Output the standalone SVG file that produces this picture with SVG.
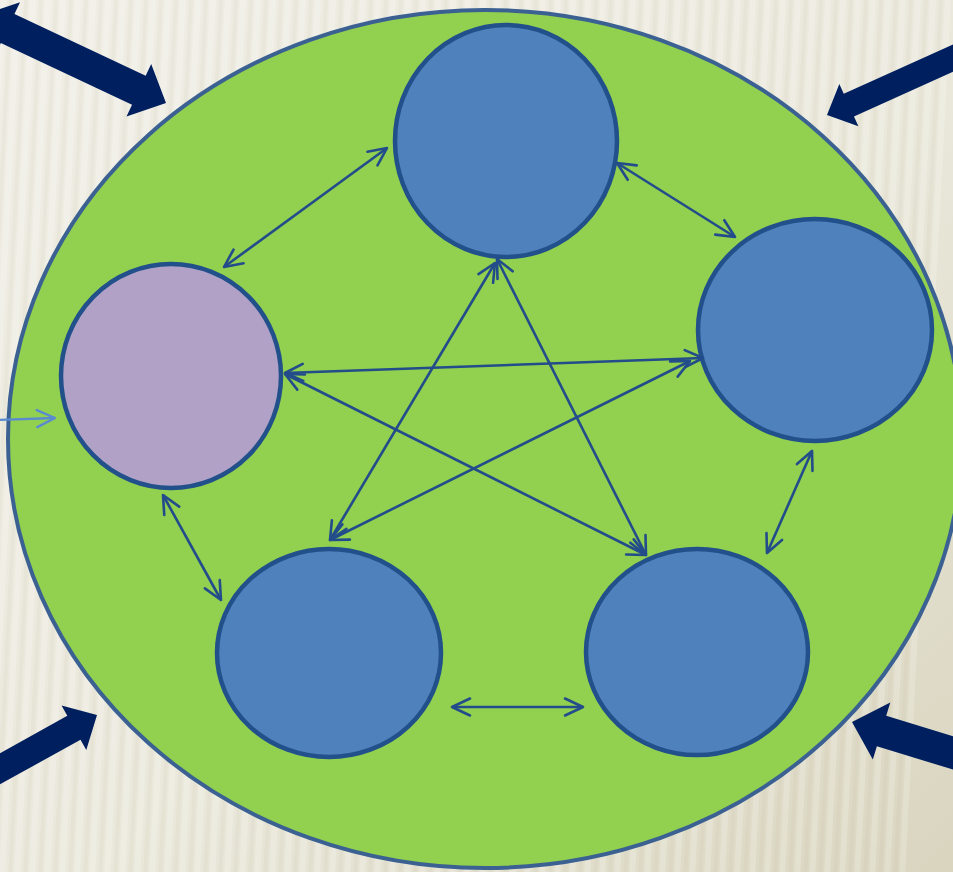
<svg xmlns="http://www.w3.org/2000/svg" width="953" height="872" viewBox="0 0 953 872">
  <defs>
    <linearGradient id="bg" x1="0" y1="0" x2="1" y2="1">
      <stop offset="0" stop-color="#f0eee5"/>
      <stop offset="0.55" stop-color="#eae8db"/>
      <stop offset="1" stop-color="#d9d5bf"/>
    </linearGradient>
    <pattern id="stripes" width="15" height="872" patternUnits="userSpaceOnUse">
      <rect x="0" y="0" width="6" height="872" fill="#ffffff" opacity="0.2"/>
      <rect x="9" y="0" width="4" height="872" fill="#a9a184" opacity="0.08"/>
    </pattern>
    <marker id="ah" viewBox="0 0 22 22" markerWidth="22" markerHeight="22" refX="20" refY="11" orient="auto-start-reverse" markerUnits="userSpaceOnUse">
      <path d="M2,2.5 L20,11 L2,19.5" fill="none" stroke="#234c8a" stroke-width="2.6" stroke-linecap="round" stroke-linejoin="round"/>
    </marker>
    <marker id="ahi" viewBox="0 0 22 22" markerWidth="22" markerHeight="22" refX="20" refY="11" orient="auto" markerUnits="userSpaceOnUse">
      <path d="M2,2.5 L20,11 L2,19.5" fill="none" stroke="#5a8ad0" stroke-width="2.4" stroke-linecap="round" stroke-linejoin="round"/>
    </marker>
    <path id="blk1" d="M0,0 L-30,-29 L-30,-15.5 L-400,-15.5 L-400,15.5 L-30,15.5 L-30,29 Z"/>
    <path id="blk2" d="M0,0 L-30,-29 L-30,-16 L-175,-16 L-175,-29 L-205,0 L-175,29 L-175,16 L-30,16 L-30,29 Z"/>
  </defs>
  <style>
    .node { stroke: #22508a; stroke-width: 4.5; }
    .blue { fill: #4f81bd; }
    .purple { fill: #b1a1c7; }
    .conn line { stroke: #234c8a; stroke-width: 2.6; fill: none; marker-start: url(#ah); marker-end: url(#ah); }
    .blk { fill: #001f5f; }
  </style>

  <g id="background">
    <rect x="0" y="0" width="953" height="872" fill="url(#bg)"/>
    <rect x="0" y="0" width="953" height="872" fill="url(#stripes)" transform="skewX(-3)"/>
  </g>

  <g id="container">
    <ellipse cx="485" cy="439" rx="477" ry="429" fill="#92d050" stroke="#3b6192" stroke-width="4"/>
  </g>

  <g id="block-arrows">
    <use href="#blk2" class="blk" transform="translate(166,103) rotate(25.2)"/>
    <use href="#blk1" class="blk" transform="translate(827,115) rotate(155.7) scale(0.8)"/>
    <use href="#blk1" class="blk" transform="translate(97,715) rotate(-29) scale(0.88)"/>
    <use href="#blk1" class="blk" transform="translate(852,722) rotate(197) scale(1.03)"/>
  </g>

  <g id="input-arrow">
    <line x1="-5" y1="420" x2="55" y2="418" stroke="#5a8ad0" stroke-width="2.4" marker-end="url(#ahi)"/>
  </g>

  <g id="node-top">
    <ellipse class="node blue" cx="506" cy="141" rx="111" ry="116"/>
  </g>
  <g id="node-right">
    <ellipse class="node blue" cx="815" cy="330" rx="117" ry="111"/>
  </g>
  <g id="node-left">
    <ellipse class="node purple" cx="171" cy="376" rx="110" ry="112"/>
  </g>
  <g id="node-bottom-left">
    <ellipse class="node blue" cx="329" cy="653" rx="112" ry="104"/>
  </g>
  <g id="node-bottom-right">
    <ellipse class="node blue" cx="697" cy="652" rx="111" ry="103"/>
  </g>

  <g id="connectors" class="conn">
    <line x1="387" y1="148" x2="224" y2="267"/>
    <line x1="617" y1="163" x2="735" y2="237"/>
    <line x1="285" y1="373" x2="703" y2="358"/>
    <line x1="495" y1="263" x2="330" y2="540"/>
    <line x1="497" y1="259" x2="646" y2="555"/>
    <line x1="285" y1="374" x2="646" y2="555"/>
    <line x1="690" y1="361" x2="330" y2="540"/>
    <line x1="163" y1="495" x2="221" y2="600"/>
    <line x1="812" y1="451" x2="767" y2="553"/>
    <line x1="452" y1="707" x2="583" y2="707"/>
  </g>
</svg>
